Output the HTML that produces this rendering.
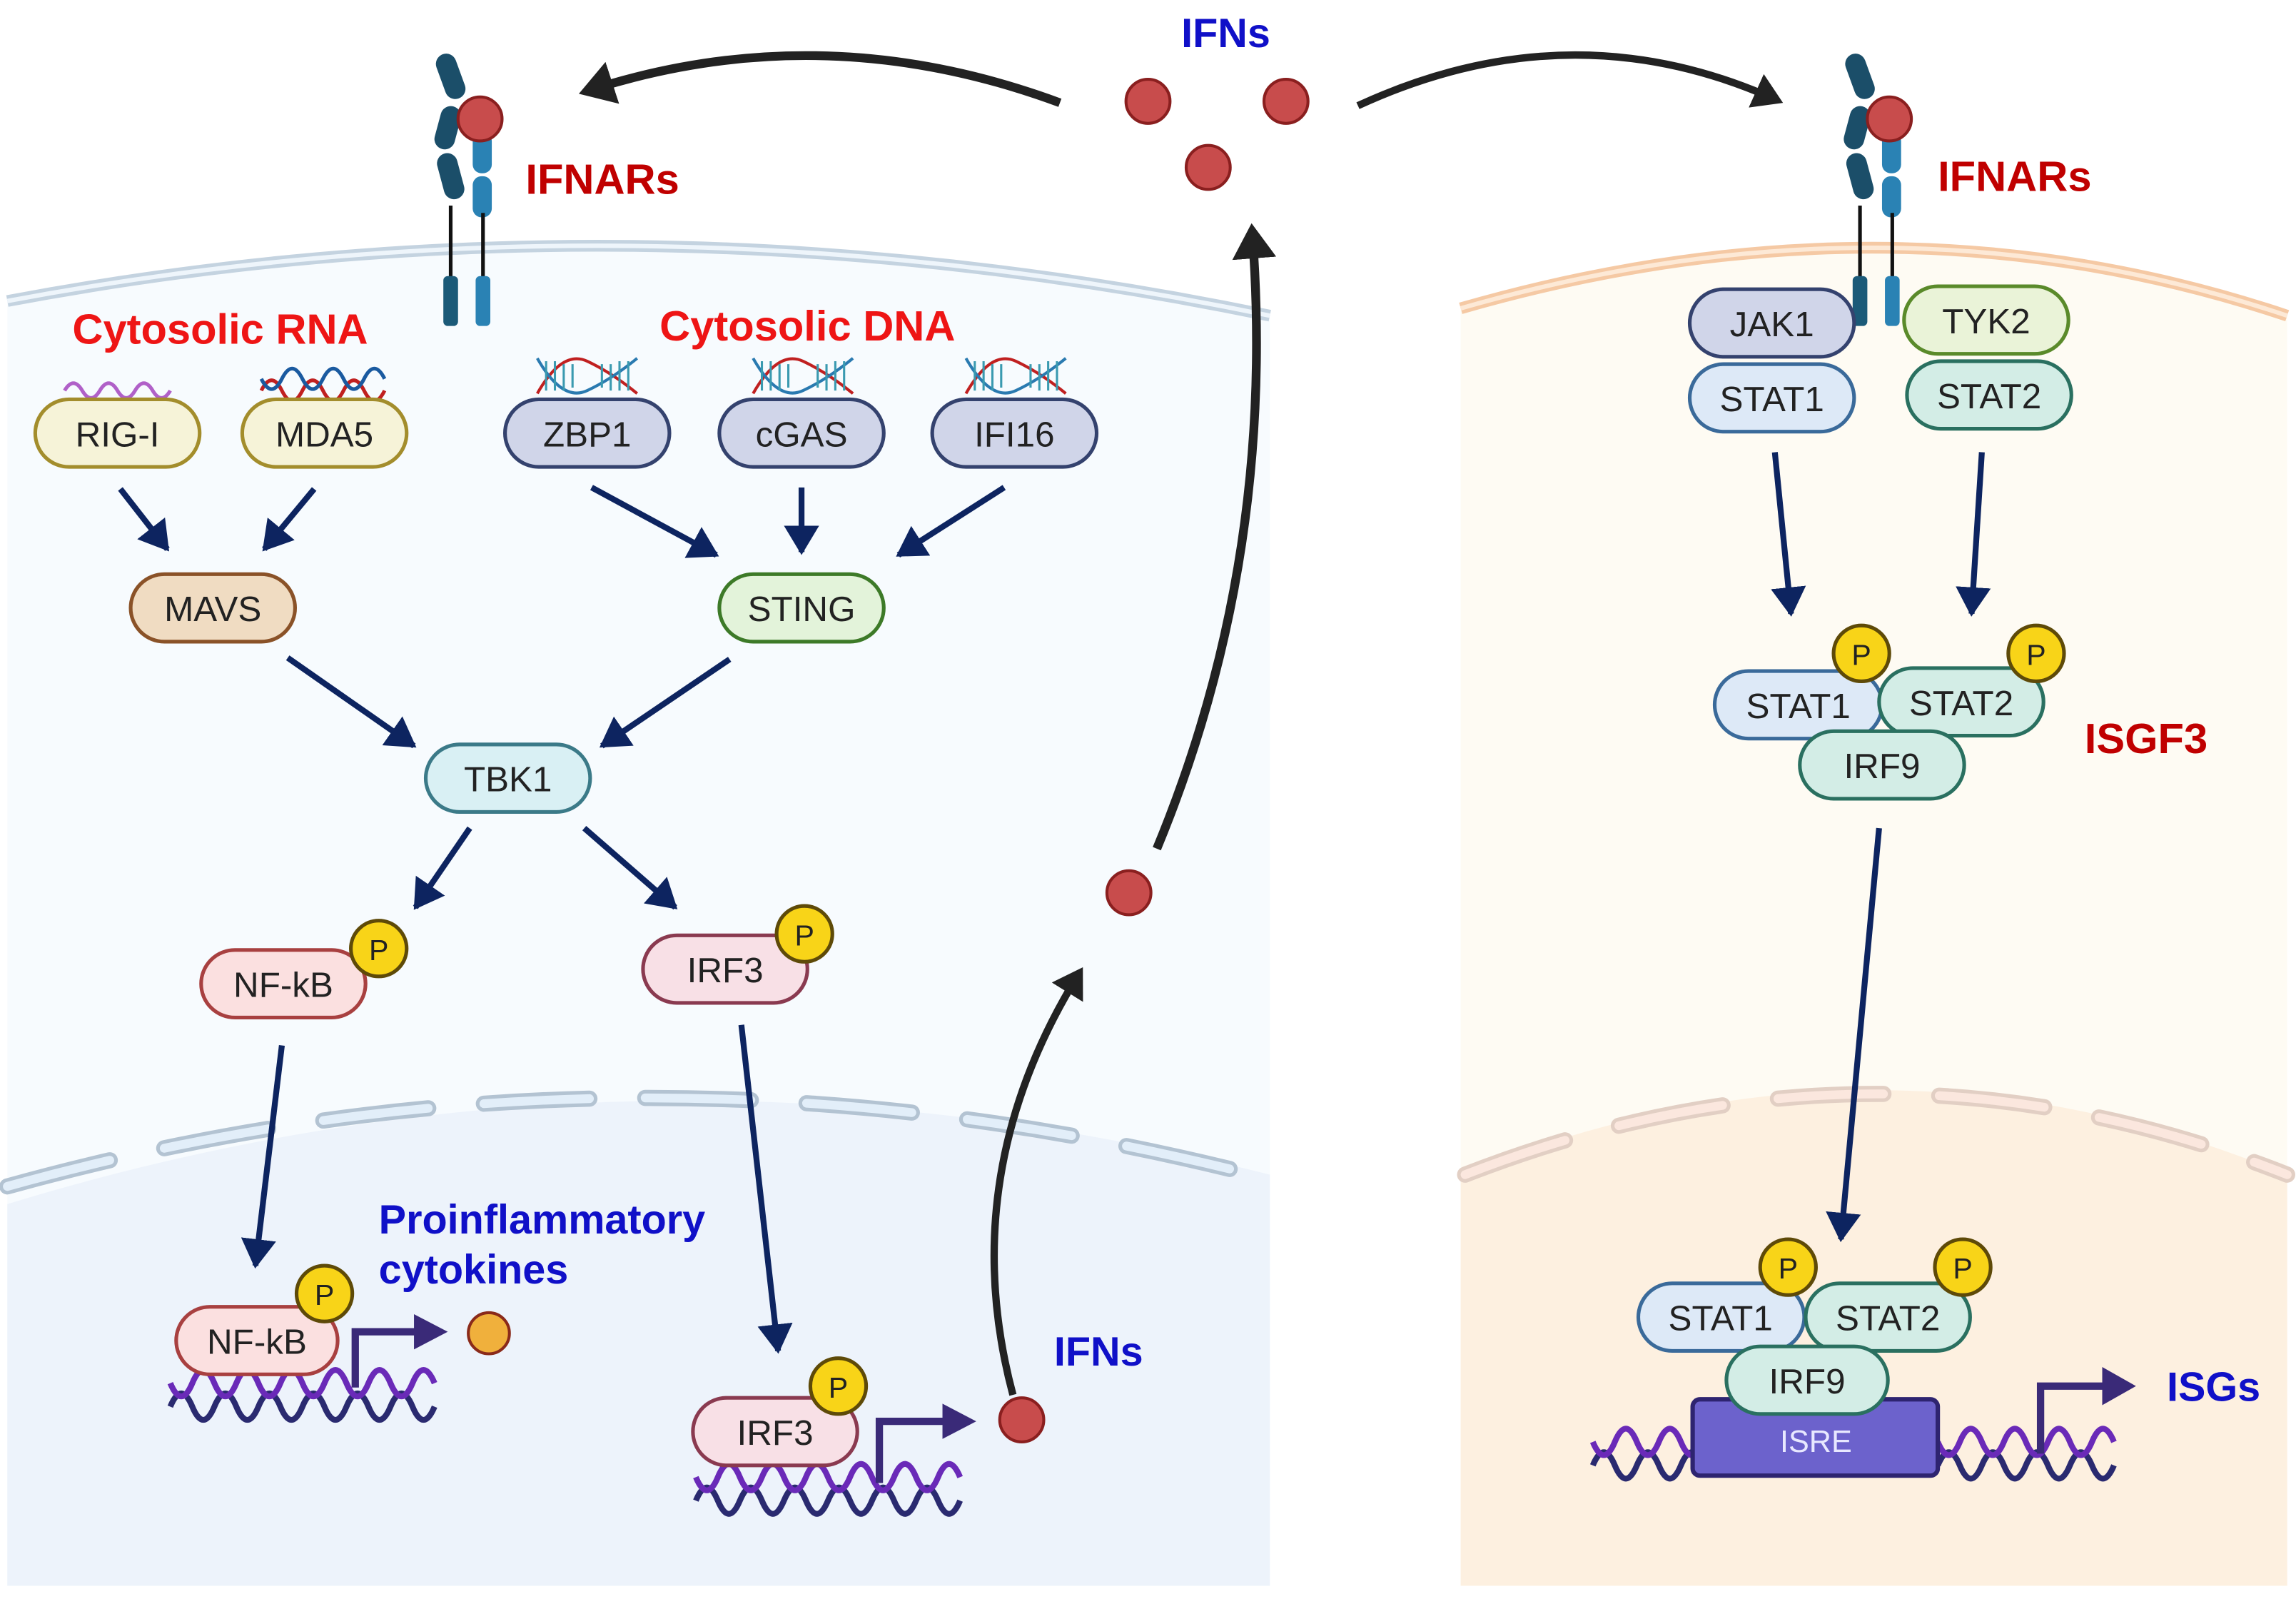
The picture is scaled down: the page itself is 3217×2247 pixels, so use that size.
<!DOCTYPE html>
<html><head><meta charset="utf-8"><style>
html,body{margin:0;padding:0;background:#fff;}
svg{display:block;}
.n{font-family:"Liberation Sans",sans-serif;font-size:24px;fill:#222;text-anchor:middle;dominant-baseline:central;}
.l{font-family:"Liberation Sans Narrow","Liberation Sans",sans-serif;font-weight:bold;}
.p{font-family:"Liberation Sans",sans-serif;font-size:20px;fill:#222;text-anchor:middle;dominant-baseline:central;}
</style></head><body>
<svg width="3217" height="2247" viewBox="0 0 1564 1092.4" preserveAspectRatio="none" xmlns="http://www.w3.org/2000/svg">
<defs>
<marker id="a" markerWidth="6" markerHeight="6" refX="4.5" refY="3" orient="auto" markerUnits="strokeWidth"><path d="M0,0 L5,3 L0,6 z" fill="#0d2460"/></marker>
<marker id="b" markerWidth="5" markerHeight="5" refX="3" refY="2.5" orient="auto" markerUnits="strokeWidth"><path d="M0,0 L4,2.5 L0,5 z" fill="#222"/></marker>
</defs>
<rect width="1564" height="1093" fill="#fff"/>
<!-- left cell -->
<path d="M5,205 Q430,125 865,215 L865,1080 L5,1080 Z" fill="#f7fbfe"/>
<path d="M5,205 Q430,125 865,215" fill="none" stroke="#c4d3e0" stroke-width="8"/>
<path d="M5,205 Q430,125 865,215" fill="none" stroke="#eef5fb" stroke-width="3"/>
<path d="M5,820 Q430,690 865,800 L865,1080 L5,1080 Z" fill="#edf3fb"/>
<path d="M5,808 Q430,690 865,803" fill="none" stroke="#b3c3d2" stroke-width="11" stroke-dasharray="72,38" stroke-linecap="round"/>
<path d="M5,808 Q430,690 865,803" fill="none" stroke="#e2eef9" stroke-width="6" stroke-dasharray="72,38" stroke-linecap="round"/>
<!-- right cell -->
<path d="M995,210 Q1290,125 1558,215 L1558,1080 L995,1080 Z" fill="#fefbf3"/>
<path d="M995,210 Q1290,125 1558,215" fill="none" stroke="#f5c9a4" stroke-width="8"/>
<path d="M995,210 Q1290,125 1558,215" fill="none" stroke="#fde9d6" stroke-width="3"/>
<path d="M995,800 Q1280,685 1558,800 L1558,1080 L995,1080 Z" fill="#fdf0e0"/>
<path d="M998,800 Q1280,690 1558,800" fill="none" stroke="#e2cfc4" stroke-width="11" stroke-dasharray="72,38" stroke-linecap="round"/>
<path d="M998,800 Q1280,690 1558,800" fill="none" stroke="#fbe7de" stroke-width="6" stroke-dasharray="72,38" stroke-linecap="round"/>

<!-- receptors -->
<g id="rec">
<rect x="300" y="36" width="14" height="32" rx="7" fill="#1b4e69" transform="rotate(-20 307 52)"/>
<rect x="298" y="72" width="14" height="30" rx="7" fill="#1b4e69" transform="rotate(15 305 87)"/>
<rect x="300" y="104" width="14" height="32" rx="7" fill="#1b4e69" transform="rotate(-15 307 120)"/>
<rect x="322" y="90" width="13" height="28" rx="6" fill="#2a82b4"/>
<rect x="322" y="120" width="13" height="28" rx="6" fill="#2a82b4"/>
<line x1="307" y1="140" x2="307" y2="190" stroke="#111" stroke-width="2.5"/>
<line x1="329" y1="145" x2="329" y2="190" stroke="#111" stroke-width="2.5"/>
<rect x="302" y="188" width="10" height="34" rx="3" fill="#1b5a78"/>
<rect x="324" y="188" width="10" height="34" rx="3" fill="#2a82b4"/>
<circle cx="327" cy="81" r="15" fill="#c84c4c" stroke="#8a1f1f" stroke-width="2"/>
</g>
<use href="#rec" transform="translate(960,0)"/>

<!-- IFN dots -->
<g fill="#c84c4c" stroke="#8a1f1f" stroke-width="2">
<circle cx="782" cy="69" r="15"/><circle cx="876" cy="69" r="15"/><circle cx="823" cy="114" r="15"/>
<circle cx="769" cy="608" r="15"/><circle cx="696" cy="967" r="15"/>
</g>
<circle cx="333" cy="908" r="14" fill="#f0b03c" stroke="#8a2a1a" stroke-width="2"/>

<!-- black curved arrows -->
<path d="M722,70 Q560,10 400,62" fill="none" stroke="#222" stroke-width="6" marker-end="url(#b)"/>
<path d="M925,72 Q1070,5 1210,68" fill="none" stroke="#222" stroke-width="5" marker-end="url(#b)"/>
<path d="M788,578 Q870,380 853,158" fill="none" stroke="#222" stroke-width="6" marker-end="url(#b)"/>
<path d="M690,950 Q650,800 735,663" fill="none" stroke="#222" stroke-width="5" marker-end="url(#b)"/>

<!-- navy arrows -->
<g stroke="#0d2460" stroke-width="4" fill="none" marker-end="url(#a)">
<line x1="82" y1="333" x2="114" y2="374"/>
<line x1="214" y1="333" x2="180" y2="374"/>
<line x1="403" y1="332" x2="488" y2="378"/>
<line x1="546" y1="332" x2="546" y2="376"/>
<line x1="684" y1="332" x2="612" y2="378"/>
<line x1="196" y1="448" x2="282" y2="508"/>
<line x1="497" y1="449" x2="410" y2="508"/>
<line x1="320" y1="564" x2="283" y2="618"/>
<line x1="398" y1="564" x2="460" y2="618"/>
<line x1="192" y1="712" x2="174" y2="862"/>
<line x1="505" y1="698" x2="530" y2="920"/>
<line x1="1209" y1="308" x2="1220" y2="418"/>
<line x1="1350" y1="308" x2="1343" y2="418"/>
<line x1="1280" y1="564" x2="1254" y2="844"/>
</g>

<!-- DNA above sensors -->
<g fill="none" stroke-width="2.5">
<path d="M44,266 q6,-10 12,0 t12,0 t12,0 t12,0 t12,0 t12,0" stroke="#b060c8"/>
<path d="M178,266 q7,-14 14,0 t14,0 t14,0 t14,0 t14,0 t14,0" stroke="#c02020"/>
<path d="M178,258 q7,14 14,0 t14,0 t14,0 t14,0 t14,0 t14,0" stroke="#1a5aa0"/>
</g>
<g id="dna2" fill="none" stroke-width="2">
<path d="M366,268 q17,-30 34,-22 t34,22" stroke="#c02020"/>
<path d="M366,244 q17,30 34,22 t34,-22" stroke="#2a7ab0"/>
<path d="M372,266 v-20 M378,266 v-20 M384,266 v-18 M390,264 v-16 M410,264 v-16 M416,266 v-18 M422,266 v-20 M428,266 v-20" stroke="#3a9ab0" stroke-width="1.5"/>
</g>
<use href="#dna2" transform="translate(147,0)"/>
<use href="#dna2" transform="translate(292,0)"/>

<!-- nuclear DNA -->
<g fill="none" stroke-width="4">
<path d="M116,958 q7.5,-18 15,0 t15,0 t15,0 t15,0 t15,0 t15,0 t15,0 t15,0 t15,0 t15,0 t15,0 t15,0" stroke="#2a2a70"/>
<path d="M116,942 q7.5,18 15,0 t15,0 t15,0 t15,0 t15,0 t15,0 t15,0 t15,0 t15,0 t15,0 t15,0 t15,0" stroke="#6a2ab8"/>
<path d="M474,1022 q7.5,-18 15,0 t15,0 t15,0 t15,0 t15,0 t15,0 t15,0 t15,0 t15,0 t15,0 t15,0 t15,0" stroke="#2a2a70"/>
<path d="M474,1006 q7.5,18 15,0 t15,0 t15,0 t15,0 t15,0 t15,0 t15,0 t15,0 t15,0 t15,0 t15,0 t15,0" stroke="#6a2ab8"/>
<path d="M1085,998 q7.5,-18 15,0 t15,0 t15,0 t15,0 t15,0" stroke="#2a2a70"/>
<path d="M1085,982 q7.5,18 15,0 t15,0 t15,0 t15,0 t15,0" stroke="#6a2ab8"/>
<path d="M1320,998 q7.5,-18 15,0 t15,0 t15,0 t15,0 t15,0 t15,0 t15,0 t15,0" stroke="#2a2a70"/>
<path d="M1320,982 q7.5,18 15,0 t15,0 t15,0 t15,0 t15,0 t15,0 t15,0 t15,0" stroke="#6a2ab8"/>
</g>
<!-- transcription arrows -->
<g fill="none" stroke="#3a2a78" stroke-width="5">
<path d="M242,945 V907 H285"/><path d="M599,1010 V968 H645"/><path d="M1390,990 V944 H1435"/>
</g>
<g fill="#3a2a78">
<path d="M282,895 L305,907 L282,919 Z"/><path d="M642,956 L665,968 L642,980 Z"/><path d="M1432,931 L1455,944 L1432,957 Z"/>
</g>
<rect x="1153" y="953" width="167" height="52" rx="5" fill="#6c62cc" stroke="#2e2470" stroke-width="3"/>
<text x="1237" y="982" class="n" style="fill:#e8e8ff;font-size:21px">ISRE</text>

<!-- pills -->
<g stroke-width="2.5">
<rect x="24" y="272" width="112" height="46" rx="23" fill="#f6f3d8" stroke="#a38d2c"/>
<rect x="165" y="272" width="112" height="46" rx="23" fill="#f6f3d8" stroke="#a38d2c"/>
<rect x="344" y="272" width="112" height="46" rx="23" fill="#d0d5e9" stroke="#34426e"/>
<rect x="490" y="272" width="112" height="46" rx="23" fill="#d0d5e9" stroke="#34426e"/>
<rect x="635" y="272" width="112" height="46" rx="23" fill="#d0d5e9" stroke="#34426e"/>
<rect x="89" y="391" width="112" height="46" rx="23" fill="#f0dcc2" stroke="#8a5228"/>
<rect x="490" y="391" width="112" height="46" rx="23" fill="#e3f3da" stroke="#3d7a28"/>
<rect x="290" y="507" width="112" height="46" rx="23" fill="#d9f0f4" stroke="#3b7a88"/>
<rect x="137" y="647" width="112" height="46" rx="23" fill="#fbe0e0" stroke="#a84040"/>
<rect x="438" y="637" width="112" height="46" rx="23" fill="#f8e0e6" stroke="#8a3a50"/>
<rect x="120" y="890" width="110" height="46" rx="23" fill="#fbe0e0" stroke="#a84040"/>
<rect x="472" y="952" width="112" height="46" rx="23" fill="#f8e0e6" stroke="#8a3a50"/>
<rect x="1151" y="197" width="112" height="46" rx="23" fill="#d0d5e9" stroke="#34426e"/>
<rect x="1151" y="248" width="112" height="46" rx="23" fill="#dde9f7" stroke="#3a6a9a"/>
<rect x="1297" y="195" width="112" height="46" rx="23" fill="#eaf3d8" stroke="#5a8a2a"/>
<rect x="1299" y="246" width="112" height="46" rx="23" fill="#d3ede6" stroke="#2a7060"/>
<rect x="1168" y="457" width="114" height="46" rx="23" fill="#dde9f7" stroke="#3a6a9a"/>
<rect x="1280" y="455" width="112" height="46" rx="23" fill="#d3ede6" stroke="#2a7060"/>
<rect x="1226" y="498" width="112" height="46" rx="23" fill="#d3ede6" stroke="#2a7060"/>
<rect x="1116" y="874" width="113" height="46" rx="23" fill="#dde9f7" stroke="#3a6a9a"/>
<rect x="1230" y="874" width="112" height="46" rx="23" fill="#d3ede6" stroke="#2a7060"/>
<rect x="1176" y="917" width="110" height="46" rx="23" fill="#d3ede6" stroke="#2a7060"/>
</g>
<g class="n">
<text x="80" y="296" class="n">RIG-I</text><text x="221" y="296" class="n">MDA5</text>
<text x="400" y="296" class="n">ZBP1</text><text x="546" y="296" class="n">cGAS</text><text x="691" y="296" class="n">IFI16</text>
<text x="145" y="415" class="n">MAVS</text><text x="546" y="415" class="n">STING</text>
<text x="346" y="531" class="n">TBK1</text><text x="193" y="671" class="n">NF-kB</text><text x="494" y="661" class="n">IRF3</text>
<text x="175" y="914" class="n">NF-kB</text><text x="528" y="976" class="n">IRF3</text>
<text x="1207" y="221" class="n">JAK1</text><text x="1207" y="272" class="n">STAT1</text>
<text x="1353" y="219" class="n">TYK2</text><text x="1355" y="270" class="n">STAT2</text>
<text x="1225" y="481" class="n">STAT1</text><text x="1336" y="479" class="n">STAT2</text><text x="1282" y="522" class="n">IRF9</text>
<text x="1172" y="898" class="n">STAT1</text><text x="1286" y="898" class="n">STAT2</text><text x="1231" y="941" class="n">IRF9</text>
</g>
<!-- P circles -->
<g fill="#f8d418" stroke="#5e4a08" stroke-width="2.5">
<circle cx="258" cy="646" r="19"/><circle cx="548" cy="636" r="19"/>
<circle cx="221" cy="881" r="19"/><circle cx="571" cy="944" r="19"/>
<circle cx="1268" cy="445" r="19"/><circle cx="1387" cy="445" r="19"/>
<circle cx="1218" cy="863" r="19"/><circle cx="1337" cy="863" r="19"/>
</g>
<g>
<text x="258" y="647" class="p">P</text><text x="548" y="637" class="p">P</text>
<text x="221" y="882" class="p">P</text><text x="571" y="945" class="p">P</text>
<text x="1268" y="446" class="p">P</text><text x="1387" y="446" class="p">P</text>
<text x="1218" y="864" class="p">P</text><text x="1337" y="864" class="p">P</text>
</g>

<!-- labels -->
<g class="l">
<text x="835" y="32" font-size="28" fill="#1010c8" text-anchor="middle">IFNs</text>
<text x="358" y="132" font-size="29" fill="#c00000">IFNARs</text>
<text x="1320" y="130" font-size="29" fill="#c00000">IFNARs</text>
<text x="150" y="234" font-size="29" fill="#ee1515" text-anchor="middle">Cytosolic RNA</text>
<text x="550" y="232" font-size="29" fill="#ee1515" text-anchor="middle">Cytosolic DNA</text>
<text x="1420" y="513" font-size="29" fill="#c00000">ISGF3</text>
<text x="258" y="840" font-size="28" fill="#1010c8">Proinflammatory</text>
<text x="258" y="874" font-size="28" fill="#1010c8">cytokines</text>
<text x="718" y="930" font-size="28" fill="#1010c8">IFNs</text>
<text x="1476" y="954" font-size="28" fill="#1010c8">ISGs</text>
</g>
</svg>
</body></html>
